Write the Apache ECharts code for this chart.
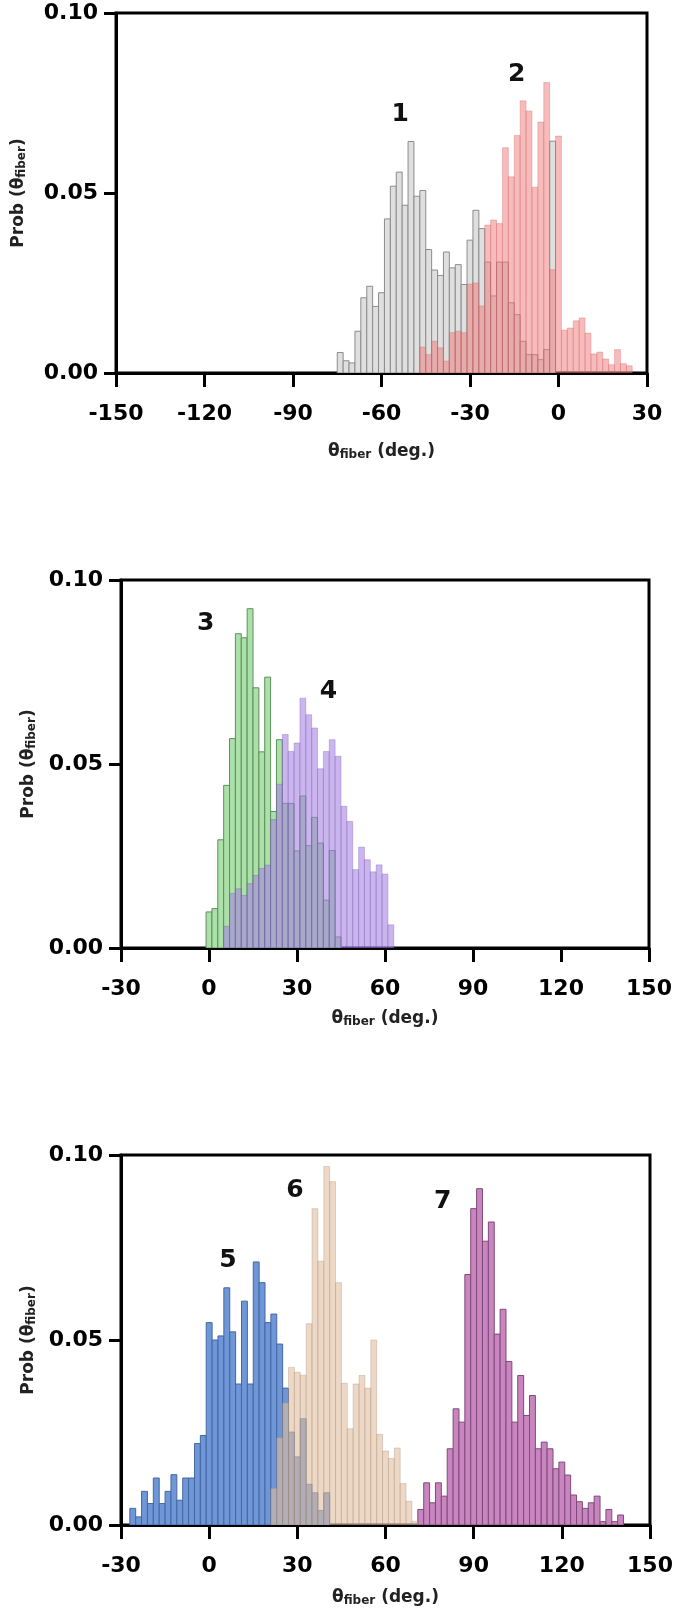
<!DOCTYPE html>
<html>
<head>
<meta charset="utf-8">
<script src="https://cdn.jsdelivr.net/npm/echarts@6/dist/echarts.min.js"></script>
<style>
html,body{margin:0;padding:0;background:#fff;}
#chart{width:680px;height:1620px;}
</style>
</head>
<body>
<div id="chart"></div>
<script>
// ---------- data (histogram bin centres, 2-degree bins) ----------
const BIN = 2;
const yTicks = [0, 0.05, 0.10];
const xTicksTop = [-150, -120, -90, -60, -30, 0, 30];
const xTicksLow = [-30, 0, 30, 60, 90, 120, 150];

// panel 1
const centers1 = [-74,-72,-70,-68,-66,-64,-62,-60,-58,-56,-54,-52,-50,-48,-46,-44,-42,-40,-38,-36,-34,-32,-30,-28,-26,-24,-22,-20,-18,-16,-14,-12,-10,-8,-6,-4,-2];
const prob1 = [0.0057,0.0034,0.0028,0.0116,0.0209,0.0241,0.0185,0.0223,0.0428,0.0519,0.0558,0.0466,0.0643,0.0491,0.0507,0.0343,0.0286,0.0271,0.0336,0.0292,0.0301,0.0246,0.0369,0.0452,0.0401,0.0308,0.0214,0.0308,0.0308,0.0195,0.0162,0.0088,0.0051,0.0051,0.0037,0.0065,0.0644];
const centers2 = [-46,-44,-42,-40,-38,-36,-34,-32,-30,-28,-26,-24,-22,-20,-18,-16,-14,-12,-10,-8,-6,-4,-2,0,2,4,6,8,10,12,14,16,18,20,22,24];
const prob2 = [0.0072,0.0051,0.0088,0.0070,0.0033,0.0112,0.0116,0.0112,0.0247,0.0250,0.0186,0.0411,0.0425,0.0415,0.0626,0.0545,0.0660,0.0756,0.0728,0.0516,0.0697,0.0807,0.0287,0.0658,0.0119,0.0125,0.0145,0.0153,0.0111,0.0053,0.0058,0.0039,0.0023,0.0065,0.0026,0.0020];

// panel 2
const centers3 = [0,2,4,6,8,10,12,14,16,18,20,22,24,26,28,30,32,34,36,38,40,42,44];
const prob3 = [0.0098,0.0107,0.0294,0.0442,0.0569,0.0854,0.0843,0.0922,0.0707,0.0533,0.0736,0.0371,0.0566,0.0393,0.0393,0.0264,0.0413,0.0278,0.0355,0.0285,0.0130,0.0265,0.0030];
const centers4 = [6,8,10,12,14,16,18,20,22,24,26,28,30,32,34,36,38,40,42,44,46,48,50,52,54,56,58,60,62];
const prob4 = [0.0059,0.0148,0.0161,0.0143,0.0175,0.0197,0.0216,0.0225,0.0349,0.0445,0.0580,0.0534,0.0557,0.0679,0.0634,0.0598,0.0487,0.0534,0.0566,0.0521,0.0385,0.0344,0.0213,0.0274,0.0240,0.0207,0.0226,0.0201,0.0063];

// panel 3
const centers5 = [-26,-24,-22,-20,-18,-16,-14,-12,-10,-8,-6,-4,-2,0,2,4,6,8,10,12,14,16,18,20,22,24,26,28,30,32,34,36,38,40];
const prob5 = [0.0045,0.0022,0.0091,0.0058,0.0127,0.0058,0.0091,0.0136,0.0067,0.0127,0.0127,0.0220,0.0242,0.0547,0.0500,0.0511,0.0641,0.0522,0.0381,0.0605,0.0381,0.0711,0.0655,0.0547,0.0570,0.0489,0.0370,0.0251,0.0184,0.0287,0.0110,0.0087,0.0039,0.0087];
const centers6 = [22,24,26,28,30,32,34,36,38,40,42,44,46,48,50,52,54,56,58,60,62,64,66,68,70];
const prob6 = [0.0099,0.0236,0.0330,0.0426,0.0413,0.0405,0.0544,0.0855,0.0713,0.0969,0.0928,0.0655,0.0383,0.0260,0.0381,0.0404,0.0370,0.0500,0.0245,0.0200,0.0180,0.0208,0.0112,0.0064,0.0010];
const centers7 = [72,74,76,78,80,82,84,86,88,90,92,94,96,98,100,102,104,106,108,110,112,114,116,118,120,122,124,126,128,130,132,134,136,138,140];
const prob7 = [0.0042,0.0114,0.0060,0.0114,0.0078,0.0206,0.0314,0.0278,0.0677,0.0855,0.0909,0.0767,0.0819,0.0516,0.0583,0.0442,0.0278,0.0404,0.0296,0.0350,0.0206,0.0224,0.0206,0.0152,0.0170,0.0135,0.0081,0.0063,0.0045,0.0060,0.0078,0.0009,0.0042,0.0009,0.0027];

const seriesNames = ['1','2','3','4','5','6','7'];

// ---------- chart ----------
const FONT = 'DejaVu Sans';
const chart = echarts.init(document.getElementById('chart'), null, {renderer: 'canvas', width: 680, height: 1620});

function hist(idx, centers, values, fill, stroke, z) {
  return {
    type: 'custom', xAxisIndex: idx, yAxisIndex: idx, z: z, silent: true,
    clip: true,
    data: centers.map((c, i) => [c, values[i]]),
    renderItem: function (params, api) {
      const x = api.value(0), y = api.value(1);
      const a = api.coord([x - BIN / 2, y]);
      const b = api.coord([x + BIN / 2, 0]);
      return {
        type: 'rect',
        shape: {x: a[0], y: a[1], width: b[0] - a[0], height: b[1] - a[1]},
        style: {fill: fill, stroke: stroke, lineWidth: 1}
      };
    }
  };
}

function labels(idx, items) {
  return {
    type: 'scatter', xAxisIndex: idx, yAxisIndex: idx, z: 20, silent: true,
    symbolSize: 1, itemStyle: {color: 'rgba(0,0,0,0)'},
    data: items.map(it => ({name: it[0], value: [it[1], it[2]]})),
    label: {show: true, position: 'inside', formatter: '{b}', fontFamily: FONT,
            fontWeight: 'bold', fontSize: 25, color: '#111', opacity: 1}
  };
}

const grids = [
  {left: 116, top: 13, width: 531, height: 360},
  {left: 121, top: 580, width: 528, height: 368},
  {left: 121, top: 1155, width: 529, height: 370}
].map(g => Object.assign({show: true, borderColor: '#000', borderWidth: 3, backgroundColor: 'transparent'}, g));

const nameRich = {
  sub: {fontSize: 12, fontFamily: FONT, fontWeight: 'bold', color: '#222', verticalAlign: 'bottom', padding: [6, 0, 0, 0]}
};

function xAxis(idx, ticks, gap) {
  return {
    type: 'value', gridIndex: idx, min: ticks[0], max: ticks[ticks.length - 1], interval: 30,
    axisLine: {show: true, onZero: false, lineStyle: {color: '#000', width: 3}},
    axisTick: {show: true, length: 14, lineStyle: {color: '#000', width: 3}},
    splitLine: {show: false},
    axisLabel: {margin: 30, fontFamily: FONT, fontWeight: 'bold', fontSize: 22, color: '#000'},
    name: 'θ{sub|fiber} (deg.)', nameLocation: 'middle', nameGap: gap,
    nameTextStyle: {fontFamily: FONT, fontWeight: 'bold', fontSize: 17, color: '#222', rich: nameRich}
  };
}
function yAxis(idx, gap) {
  return {
    type: 'value', gridIndex: idx, min: yTicks[0], max: yTicks[2], interval: 0.05,
    axisLine: {show: true, onZero: false, lineStyle: {color: '#000', width: 3}},
    axisTick: {show: true, length: 12, lineStyle: {color: '#000', width: 3}},
    splitLine: {show: false},
    axisLabel: {margin: 18, fontFamily: FONT, fontWeight: 'bold', fontSize: 22, color: '#000',
                formatter: v => v.toFixed(2)},
    name: 'Prob (θ{sub|fiber})', nameLocation: 'middle', nameRotate: 90, nameGap: gap,
    nameTextStyle: {fontFamily: FONT, fontWeight: 'bold', fontSize: 17, color: '#222', rich: nameRich}
  };
}

chart.setOption({
  animation: false,
  backgroundColor: '#fff',
  grid: grids,
  xAxis: [xAxis(0, xTicksTop, 70), xAxis(1, xTicksLow, 62), xAxis(2, xTicksLow, 64)],
  yAxis: [yAxis(0, 88), yAxis(1, 82), yAxis(2, 82)],
  series: [
    hist(0, centers1, prob1, '#dfdfdf', '#8c8c8c', 2),
    hist(0, centers2, prob2, 'rgba(242,120,120,0.5)', 'rgba(200,90,90,0.3)', 3),
    hist(1, centers3, prob3, '#abe0a8', '#5f8f5c', 2),
    hist(1, centers4, prob4, 'rgba(165,128,228,0.58)', 'rgba(110,80,170,0.3)', 3),
    hist(2, centers5, prob5, '#6f97d8', '#43679f', 2),
    hist(2, centers6, prob6, 'rgba(225,190,160,0.6)', 'rgba(160,130,110,0.3)', 3),
    hist(2, centers7, prob7, '#c985c0', '#7f4a78', 2),
    labels(0, [[seriesNames[0], -53.7, 0.0717], [seriesNames[1], -14.2, 0.0828]]),
    labels(1, [[seriesNames[2], -1.1, 0.0883], [seriesNames[3], 40.7, 0.0696]]),
    labels(2, [[seriesNames[4], 6.4, 0.0716], [seriesNames[5], 29.2, 0.0905], [seriesNames[6], 79.5, 0.0873]])
  ]
});
</script>
</body>
</html>
